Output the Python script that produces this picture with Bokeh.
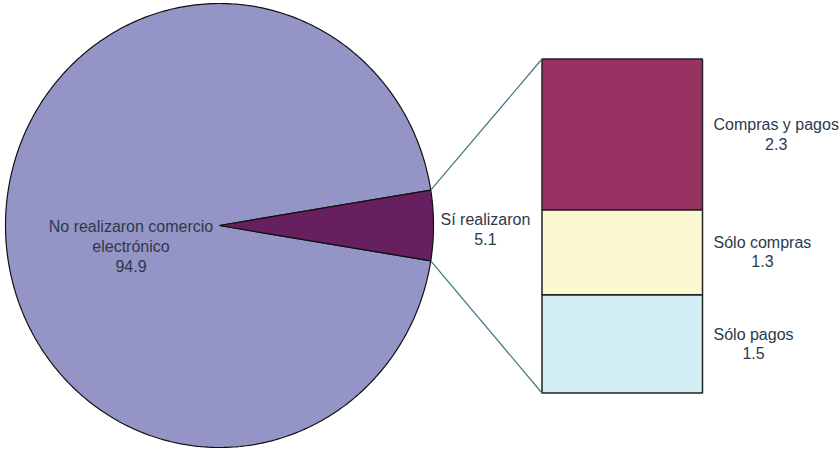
import numpy as np
from bokeh.plotting import figure
from bokeh.models import Range1d, ColumnDataSource
from bokeh.core.properties import value
from bokeh.embed import file_html
from bokeh.resources import INLINE

# ---- data ----
pie_labels = ["No realizaron comercio\nelectrónico", "Sí realizaron"]
pie_values = [94.9, 5.1]
pie_colors = ["#9594C7", "#661F5F"]

bar_labels = ["Sólo pagos", "Sólo compras", "Compras y pagos"]
bar_values = [1.5, 1.3, 2.3]
bar_colors = ["#D4EEF6", "#FCF8CF", "#983262"]

FONT = value("Liberation Sans")
TXT = "#2B3A4A"

W, H = 839, 451
p = figure(width=W, height=H, output_backend="svg", toolbar_location=None,
           x_range=Range1d(0, W), y_range=Range1d(H, 0),
           min_border=0, tools="")
p.axis.visible = False
p.grid.visible = False
p.outline_line_color = None
p.background_fill_color = "white"
p.border_fill_color = "white"

# ---- pie (slightly elliptical, as in reference) ----
cx, cy, rx, ry = 219.0, 225.0, 214.0, 222.0
small_half = pie_values[1] / sum(pie_values) * 2 * np.pi / 2
angles = [(small_half, 2 * np.pi - small_half), (-small_half, small_half)]
xs, ys = [], []
for a0, a1 in angles:
    t = np.linspace(a0, a1, 400)
    xs.append(np.concatenate([[cx], cx + rx * np.cos(t), [cx]]))
    ys.append(np.concatenate([[cy], cy - ry * np.sin(t), [cy]]))
p.patches(xs=xs, ys=ys, fill_color=pie_colors, line_color="#111111", line_width=1.2)

# ---- stacked bar ----
bar_left, bar_right = 541.5, 702.0
bar_bottom_px, bar_top_px = 392.5, 58.5
total = sum(bar_values)
scale = (bar_bottom_px - bar_top_px) / total
def by(v):
    return bar_bottom_px - v * scale

cum = np.concatenate([[0], np.cumsum(bar_values)])
bsrc = ColumnDataSource(dict(
    left=[bar_left] * len(bar_values), right=[bar_right] * len(bar_values),
    bottom=[by(c) for c in cum[:-1]], top=[by(c) for c in cum[1:]],
    color=bar_colors))
p.quad(left="left", right="right", bottom="bottom", top="top", source=bsrc,
       fill_color="color", line_color="#222222", line_width=1.5)

# ---- connector lines ----
ex = cx + rx * np.cos(small_half)
p.segment(x0=[ex, ex], y0=[cy - ry * np.sin(small_half), cy + ry * np.sin(small_half)],
          x1=[bar_left, bar_left], y1=[by(total), by(0)],
          line_color="#3E787E", line_width=1.2)

# ---- labels ----
p.text(x=[130.5], y=[246], text=[f"{pie_labels[0]}\n{pie_values[0]}"],
       text_font=FONT, text_font_size="16px", text_color=TXT,
       text_align="center", text_baseline="middle", text_line_height=1.15)
p.text(x=[440], y=[229], text=[f"{pie_labels[1]}\n{pie_values[1]}"],
       text_font=FONT, text_font_size="16px", text_color=TXT,
       text_align="center", anchor="center_left", text_baseline="middle",
       text_line_height=1.15)
mids = [(by(cum[i]) + by(cum[i + 1])) / 2 for i in range(len(bar_values))]
p.text(x=[bar_right + 11] * len(bar_values), y=mids,
       text=[f"{l}\n{v}" for l, v in zip(bar_labels, bar_values)],
       text_font=FONT, text_font_size="16px", text_color=TXT,
       text_align="center", anchor="center_left", text_baseline="middle",
       text_line_height=1.15)

open("out.html", "w").write(file_html(p, INLINE))
